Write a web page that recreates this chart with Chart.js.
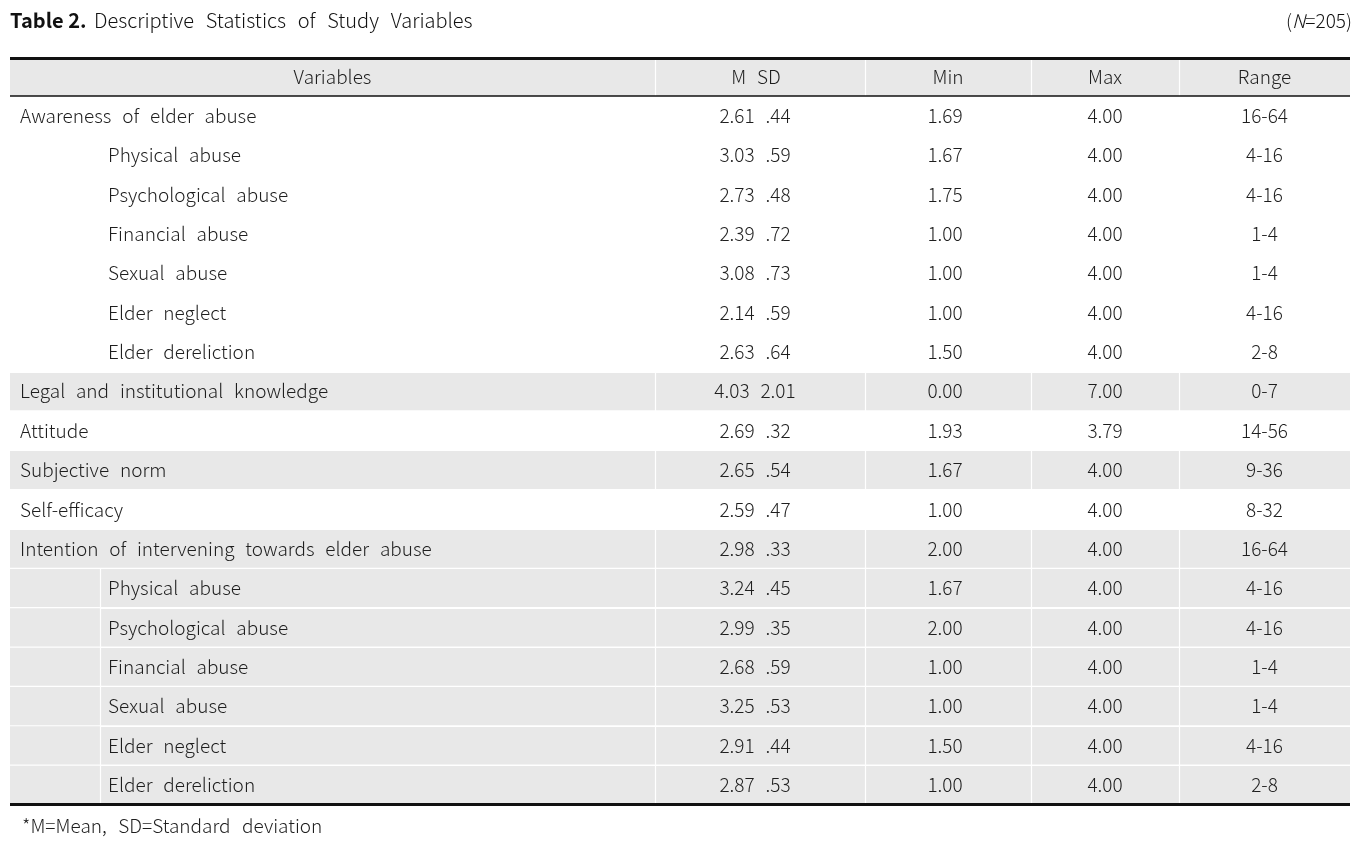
<!DOCTYPE html>
<html>
<head>
<meta charset="utf-8">
<title>Table 2. Descriptive Statistics of Study Variables</title>
<script src="https://cdn.jsdelivr.net/npm/chart.js@4.4.1/dist/chart.umd.min.js"></script>
<style>
  html, body { margin: 0; padding: 0; background: #fff; }
  #wrap { width: 1372px; height: 845px; }
</style>
</head>
<body>
<div id="wrap"><canvas id="tableChart" width="1372" height="845"></canvas></div>
<script>
// table content
const rowLabels = [
  "Awareness of elder abuse", "Physical abuse", "Psychological abuse", "Financial abuse",
  "Sexual abuse", "Elder neglect", "Elder dereliction",
  "Legal and institutional knowledge", "Attitude", "Subjective norm", "Self-efficacy",
  "Intention of intervening towards elder abuse", "Physical abuse", "Psychological abuse",
  "Financial abuse", "Sexual abuse", "Elder neglect", "Elder dereliction"
];
const rowIndent = [0, 1, 1, 1, 1, 1, 1, 0, 0, 0, 0, 0, 2, 2, 2, 2, 2, 2];
const meanValues = ["2.61", "3.03", "2.73", "2.39", "3.08", "2.14", "2.63", "4.03", "2.69", "2.65", "2.59",
  "2.98", "3.24", "2.99", "2.68", "3.25", "2.91", "2.87"];
const sdValues = [".44", ".59", ".48", ".72", ".73", ".59", ".64", "2.01", ".32", ".54", ".47",
  ".33", ".45", ".35", ".59", ".53", ".44", ".53"];
const minValues = ["1.69", "1.67", "1.75", "1.00", "1.00", "1.00", "1.50", "0.00", "1.93", "1.67", "1.00",
  "2.00", "1.67", "2.00", "1.00", "1.00", "1.50", "1.00"];
const maxValues = ["4.00", "4.00", "4.00", "4.00", "4.00", "4.00", "4.00", "7.00", "3.79", "4.00", "4.00",
  "4.00", "4.00", "4.00", "4.00", "4.00", "4.00", "4.00"];
const rangeLabels = ["16-64", "4-16", "4-16", "1-4", "1-4", "4-16", "2-8", "0-7", "14-56", "9-36", "8-32",
  "16-64", "4-16", "4-16", "1-4", "1-4", "4-16", "2-8"];
const headerLabels = ["Variables", "M  SD", "Min", "Max", "Range"];
const shadedRows = [7, 9, 11, 12, 13, 14, 15, 16, 17];

const titleBold = "Table 2.";
const titleText = "Descriptive Statistics of Study Variables";
const footnote = "*M=Mean, SD=Standard deviation";

// layout (in table units, x measured from the table's left edge)
const TABLE_W = 1340;
const colEdges = [0, 645, 855, 1021, 1169, 1340];
const mergedEdge = 90;      // split of the merged cell under "Intention ..."
const HEADER_H = 0.953;     // header height in rows
const FONT = "'Noto Sans CJK KR', 'Noto Sans', sans-serif";
const TEXT = "#1e1e1e";
const SHADE = "#e8e8e8";

const shadeData = shadedRows.map(i => ({ x: [0, TABLE_W], y: i + 0.5 }));

// the source typesets with wide word gaps
function fmt(s) { return s.split(" ").join("  "); }

const tablePlugin = {
  id: "tableCells",
  beforeDatasetsDraw(chart) {
    const { ctx, scales: { x, y } } = chart;
    ctx.save();
    ctx.fillStyle = SHADE;
    ctx.fillRect(x.getPixelForValue(0), y.getPixelForValue(-HEADER_H),
      x.getPixelForValue(TABLE_W) - x.getPixelForValue(0),
      y.getPixelForValue(0) - y.getPixelForValue(-HEADER_H));
    ctx.restore();
  },
  afterDatasetsDraw(chart) {
    const { ctx, scales: { x, y } } = chart;
    const n = rowLabels.length;
    const L = x.getPixelForValue(0), R = x.getPixelForValue(TABLE_W);
    ctx.save();

    // white cell borders
    ctx.strokeStyle = "#ffffff";
    ctx.lineWidth = 1.2;
    colEdges.slice(1, -1).forEach(c => {
      const px = Math.round(x.getPixelForValue(c)) + 0.5;
      ctx.beginPath();
      ctx.moveTo(px, y.getPixelForValue(-HEADER_H));
      ctx.lineTo(px, y.getPixelForValue(n));
      ctx.stroke();
    });
    for (let i = 1; i < n; i++) {
      const py = Math.round(y.getPixelForValue(i)) + 0.5;
      const startX = rowIndent[i] === 2 ? x.getPixelForValue(mergedEdge) : L;
      ctx.beginPath();
      ctx.moveTo(startX, py);
      ctx.lineTo(R, py);
      ctx.stroke();
    }
    const firstSub = rowIndent.indexOf(2);
    const mx = Math.round(x.getPixelForValue(mergedEdge)) + 0.5;
    ctx.beginPath();
    ctx.moveTo(mx, y.getPixelForValue(firstSub));
    ctx.lineTo(mx, y.getPixelForValue(n));
    ctx.stroke();

    // black rules
    ctx.strokeStyle = "#111111";
    ctx.lineWidth = 3;
    [y.getPixelForValue(-HEADER_H), y.getPixelForValue(n)].forEach(py => {
      ctx.beginPath(); ctx.moveTo(L, py); ctx.lineTo(R, py); ctx.stroke();
    });
    ctx.lineWidth = 1.5;
    ctx.beginPath();
    ctx.moveTo(L, y.getPixelForValue(0)); ctx.lineTo(R, y.getPixelForValue(0));
    ctx.stroke();

    // text
    ctx.fillStyle = TEXT;
    ctx.textBaseline = "middle";
    ctx.font = "300 19px " + FONT;
    ctx.wordSpacing = "1.2px";
    const colMid = k => (x.getPixelForValue(colEdges[k]) + x.getPixelForValue(colEdges[k + 1])) / 2;
    const hy = y.getPixelForValue(-HEADER_H / 2);
    ctx.textAlign = "center";
    headerLabels.forEach((h, k) => ctx.fillText(h, colMid(k) - (k === 1 ? 4 : 0), hy));

    rowLabels.forEach((lab, i) => {
      const py = y.getPixelForValue(i + 0.5);
      ctx.textAlign = "left";
      const tx = rowIndent[i] ? x.getPixelForValue(98) : x.getPixelForValue(10);
      ctx.fillText(fmt(lab), tx, py);
      ctx.textAlign = "center";
      ctx.fillText(meanValues[i] + "  " + sdValues[i], colMid(1) - 5, py);
      ctx.fillText(minValues[i], colMid(2) - 3, py);
      ctx.fillText(maxValues[i], colMid(3), py);
      ctx.fillText(rangeLabels[i], colMid(4), py);
    });

    // title line
    ctx.textAlign = "left";
    ctx.textBaseline = "alphabetic";
    ctx.font = "bold 20px " + FONT;
    ctx.fillStyle = "#111";
    ctx.wordSpacing = "0px";
    ctx.fillText(titleBold, 10, 28);
    const bw = ctx.measureText(titleBold + " ").width;
    ctx.font = "300 20px " + FONT;
    ctx.wordSpacing = "1.4px";
    ctx.fillText(fmt(titleText), 10 + bw + 3, 28);

    ctx.wordSpacing = "0px";
    ctx.textAlign = "right";
    ctx.font = "300 19px " + FONT;
    const tail = "=205)";
    ctx.fillText(tail, 1352, 28);
    const tw = ctx.measureText(tail).width;
    ctx.font = "italic 300 19px " + FONT;
    ctx.fillText("N", 1352 - tw, 28);
    const nw = ctx.measureText("N").width;
    ctx.font = "300 19px " + FONT;
    ctx.fillText("(", 1352 - tw - nw, 28);

    // footnote
    ctx.textAlign = "left";
    ctx.textBaseline = "middle";
    ctx.fillStyle = TEXT;
    ctx.font = "300 19px " + FONT;
    ctx.wordSpacing = "1.5px";
    ctx.fillText(fmt(footnote), 22, 826);
    ctx.restore();
  }
};

new Chart(document.getElementById("tableChart"), {
  type: "bar",
  data: {
    datasets: [{
      data: shadeData,
      backgroundColor: SHADE,
      borderWidth: 0,
      barPercentage: 1,
      categoryPercentage: 1
    }]
  },
  options: {
    indexAxis: "y",
    responsive: false,
    animation: false,
    devicePixelRatio: 1,
    layout: { padding: { top: 58.5, bottom: 845 - 804.5, left: 10, right: 22 } },
    scales: {
      x: { type: "linear", min: 0, max: TABLE_W, display: false },
      y: { type: "linear", min: -HEADER_H, max: rowLabels.length, reverse: true, offset: false, display: false }
    },
    plugins: { legend: { display: false }, tooltip: { enabled: false } }
  },
  plugins: [tablePlugin]
});
</script>
</body>
</html>
